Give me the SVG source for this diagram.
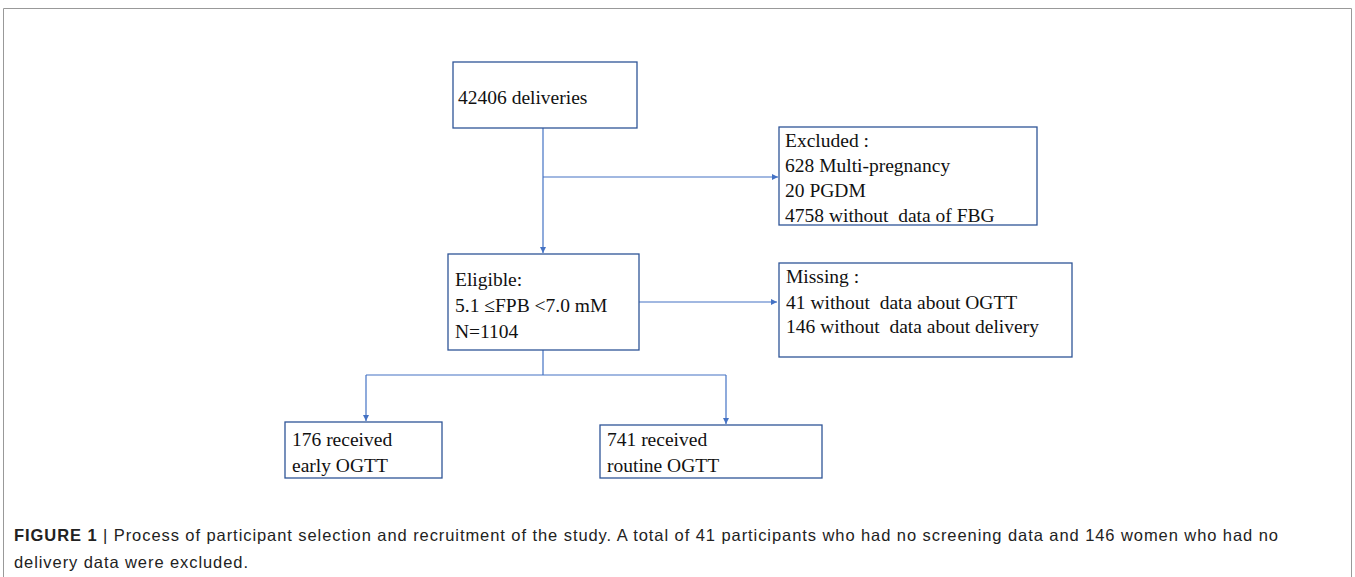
<svg xmlns="http://www.w3.org/2000/svg" width="1355" height="577" viewBox="0 0 1355 577">
<defs>
<marker id="ah" viewBox="0 0 10 10" refX="10" refY="5" markerWidth="6" markerHeight="6" orient="auto" markerUnits="userSpaceOnUse">
<path d="M0,0 L10,5 L0,10 z" fill="#4472C4"/>
</marker>
<style>
.box{fill:#fff;stroke:#2F5597;stroke-width:1.3}
.t{font-family:"Liberation Serif",serif;font-size:19.5px;fill:#111;white-space:pre}
.c{fill:none;stroke:#4472C4;stroke-width:1.2}
.cap{font-family:"Liberation Sans",Arial,sans-serif;font-size:16.5px;fill:#222}
</style>
</defs>
<rect width="1355" height="577" fill="#fff"/>
<path d="M3.5,577 V8.5 H1351.5 V577" fill="none" stroke="#999" stroke-width="1"/>
<g id="connectors">
<path class="c" d="M543,128 V253" marker-end="url(#ah)"/>
<path class="c" d="M543,177 H778" marker-end="url(#ah)"/>
<path class="c" d="M639,302 H777" marker-end="url(#ah)"/>
<path class="c" d="M543,350 V375 M366,375 H726"/>
<path class="c" d="M366,375 V421" marker-end="url(#ah)"/>
<path class="c" d="M726,375 V424" marker-end="url(#ah)"/>
</g>
<g id="n1"><rect class="box" x="453" y="62" width="184" height="66"/><text class="t" x="458" y="104">42406 deliveries</text></g>
<g id="n2"><rect class="box" x="779" y="127" width="258" height="98"/>
<text class="t" x="785" y="147">Excluded :</text>
<text class="t" x="785" y="172">628 Multi-pregnancy</text>
<text class="t" x="785" y="197">20 PGDM</text>
<text class="t" x="785" y="222" xml:space="preserve">4758 without  data of FBG</text></g>
<g id="n3"><rect class="box" x="448" y="254" width="191" height="96"/>
<text class="t" x="455" y="286">Eligible:</text>
<text class="t" x="455" y="312">5.1 ≤FPB &lt;7.0 mM</text>
<text class="t" x="455" y="338">N=1104</text></g>
<g id="n4"><rect class="box" x="779" y="263" width="293" height="94"/>
<text class="t" x="786" y="283">Missing :</text>
<text class="t" x="786" y="309" xml:space="preserve">41 without  data about OGTT</text>
<text class="t" x="786" y="333" xml:space="preserve">146 without  data about delivery</text></g>
<g id="n5"><rect class="box" x="285" y="422" width="157" height="56"/>
<text class="t" x="292" y="446">176 received</text>
<text class="t" x="292" y="472">early OGTT</text></g>
<g id="n6"><rect class="box" x="600" y="425" width="222" height="53"/>
<text class="t" x="607" y="446">741 received</text>
<text class="t" x="607" y="472">routine OGTT</text></g>
<g id="caption">
<text class="cap" x="14" y="541" textLength="1264" lengthAdjust="spacing"><tspan font-weight="bold">FIGURE 1</tspan> | Process of participant selection and recruitment of the study. A total of 41 participants who had no screening data and 146 women who had no</text>
<text class="cap" x="14" y="568" textLength="234" lengthAdjust="spacing">delivery data were excluded.</text>
</g>
</svg>
